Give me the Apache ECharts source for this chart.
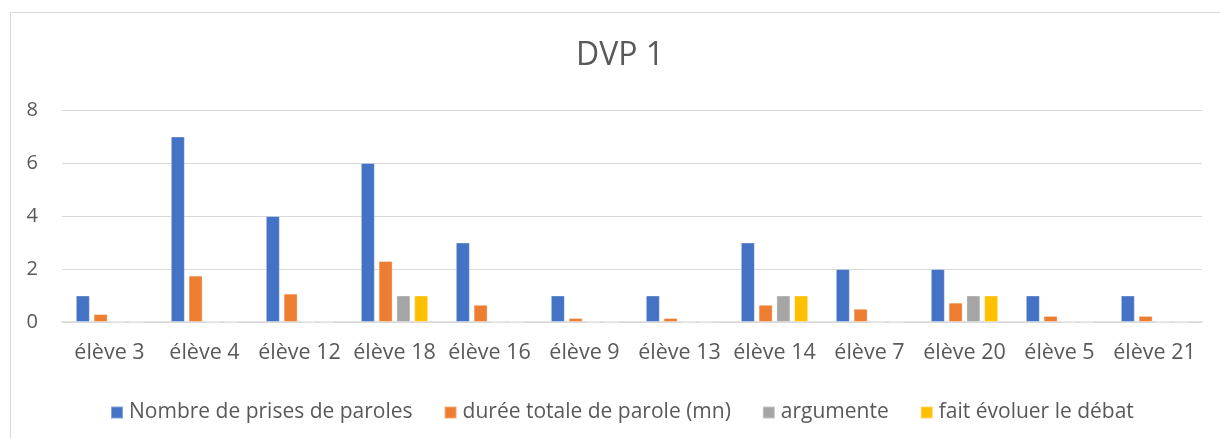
<!DOCTYPE html>
<html><head><meta charset="utf-8">
<script src="https://cdn.jsdelivr.net/npm/echarts@6/dist/echarts.min.js"></script>
<style>html,body{margin:0;padding:0;background:#fff}#c{width:1220px;height:438px}</style>
</head><body><div id="c"></div>
<script>
const categories = ['élève 3','élève 4','élève 12','élève 18','élève 16','élève 9','élève 13','élève 14','élève 7','élève 20','élève 5','élève 21'];
const prises = [1,7,4,6,3,1,1,3,2,2,1,1];
const duree = [0.3,1.75,1.07,2.3,0.65,0.15,0.15,0.65,0.5,0.73,0.23,0.23];
const argumente = [0,0,0,1,0,0,0,1,0,1,0,0];
const faitEvoluer = [0,0,0,1,0,0,0,1,0,1,0,0];
const seriesNames = ['Nombre de prises de paroles','durée totale de parole (mn)','argumente','fait évoluer le débat'];
const colors = ['#4472C4','#ED7D31','#A5A5A5','#FFC000'];
const font = 'Open Sans';
const chart = echarts.init(document.getElementById('c'));
const data = [prises, duree, argumente, faitEvoluer];
chart.setOption({
  animation:false,
  color: colors,
  title:{text:'DVP 1',left:571,top:35,textStyle:{fontFamily:font,fontSize:32,fontWeight:'normal',color:'#595959'}},
  grid:{left:62,right:18,top:110,bottom:116,containLabel:false},
  legend:{top:397,left:105,itemWidth:12,itemHeight:12,itemGap:31,icon:'rect',
    textStyle:{fontFamily:font,fontSize:21,color:'#595959',padding:[0,0,0,1]},data:seriesNames},
  xAxis:{type:'category',data:categories,axisTick:{show:false},
    axisLine:{lineStyle:{color:'#d9d9d9',width:1.5}},
    axisLabel:{fontFamily:font,fontSize:21.5,color:'#595959',margin:20,interval:0}},
  yAxis:{type:'value',min:0,max:8,interval:2,axisLine:{show:false},axisTick:{show:false},
    splitLine:{lineStyle:{color:'#d9d9d9',width:1.2}},
    axisLabel:{fontFamily:font,fontSize:20,color:'#595959',margin:24}},
  graphic:[{type:'rect',shape:{x:10.5,y:12.5,width:1215,height:440},style:{fill:'none',stroke:'#d9d9d9',lineWidth:1},silent:true}],
  series: seriesNames.map((n,i)=>({name:n,type:'bar',data:data[i],barWidth:14,barGap:'27%',
    itemStyle:{borderColor:'rgba(255,255,255,0.35)',borderWidth:1}}))
});
</script></body></html>
